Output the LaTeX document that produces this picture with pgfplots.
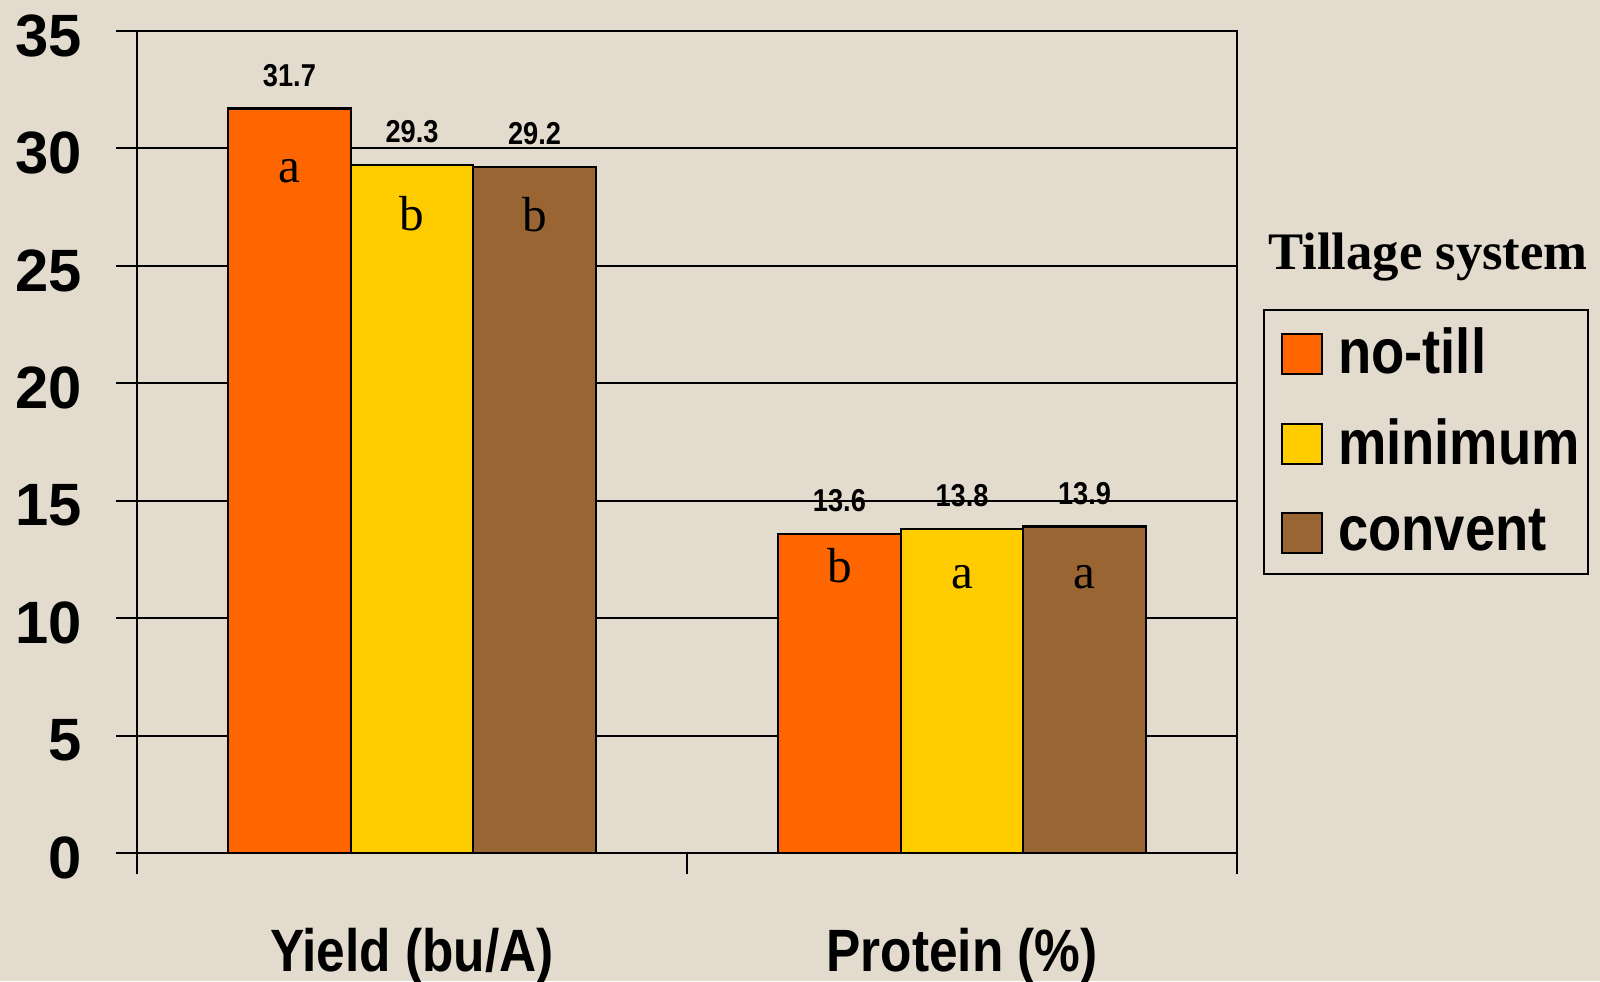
\documentclass[border=0pt]{standalone}
\usepackage{pgfplots}
\pgfplotsset{compat=1.18}
\usepackage{fontspec}
\setmainfont{Liberation Serif}
\newfontfamily\imp[FakeStretch=0.86]{Liberation Sans}
\newfontfamily\impn{Liberation Sans}
\definecolor{bgc}{RGB}{227,219,205}
\definecolor{notill}{RGB}{255,102,0}
\definecolor{minim}{RGB}{255,204,0}
\definecolor{convent}{RGB}{153,102,51}

\pgfplotsset{
    vallab/.style={nodes near coords, nodes near coords style={font=\fontsize{9}{9}\selectfont\imp\bfseries,
        anchor=south, inner sep=0pt, yshift=0.21cm}},
    letter/.style={draw=none, fill=none, forget plot, point meta=explicit symbolic,
        nodes near coords, nodes near coords style={font=\fontsize{14}{14}\selectfont, anchor=base}},
}

\begin{document}
\begin{tikzpicture}
\useasboundingbox (0,0) rectangle (16,9.81);
\clip (0,0) rectangle (16,9.81);
\fill[bgc] (0,0) rectangle (16,9.81);
\begin{axis}[
    at={(1.37cm,1.28cm)}, anchor=south west,
    scale only axis, width=11cm, height=8.22cm,
    ybar, bar width=0.2228,
    xmin=-0.5, xmax=1.5, ymin=0, ymax=35,
    xtick={-0.5,0.5,1.5}, xticklabels={},
    extra x ticks={0,1},
    extra x tick labels={Yield (bu/A),Protein (\%)},
    extra x tick style={major tick length=0pt,
        xticklabel style={font=\fontsize{17}{17}\selectfont\imp\bfseries, anchor=base, yshift=-1.18cm}},
    ytick={0,5,...,35},
    major tick length=0.21cm,
    tick align=outside, tick pos=left,
    ymajorgrids, grid style={black, line width=0.6pt},
    axis line style={black, line width=0.6pt},
    tick style={black, line width=0.6pt},
    /pgf/number format/assume math mode=true,
    yticklabel style={font=\fontsize{17}{17}\selectfont\impn\bfseries, anchor=east, xshift=-0.22cm, yshift=-0.05cm},
    legend style={at={(1.0236,0.6618)}, anchor=north west, draw=black, line width=0.6pt,
        fill=none, font=\fontsize{18}{18}\selectfont\imp\bfseries,
        inner xsep=0.01cm, inner ysep=0.11cm, row sep=0.255cm, cells={anchor=west}},
    legend image code/.code={\path[draw=none, fill=none] (-0.17cm,0) -- (0.49cm,0);
        \draw[#1, draw=black, line width=0.6pt] (0cm,-0.2cm) rectangle (0.4cm,0.2cm);},
]
\addplot[bar shift=-0.2228, fill=notill, draw=black, line width=0.6pt, vallab]
    coordinates {(0,31.7) (1,13.6)};
\addplot[bar shift=0, fill=minim, draw=black, line width=0.6pt, vallab]
    coordinates {(0,29.3) (1,13.8)};
\addplot[bar shift=0.2228, fill=convent, draw=black, line width=0.6pt, vallab]
    coordinates {(0,29.2) (1,13.9)};
\legend{no-till,minimum,convent}
% significance letters, placed at their baselines
\addplot[bar shift=-0.2228, letter] coordinates {(0,28.55) [a] (1,11.51) [b]};
\addplot[bar shift=0, letter] coordinates {(0,26.49) [b] (1,11.25) [a]};
\addplot[bar shift=0.2228, letter] coordinates {(0,26.48) [b] (1,11.26) [a]};
\end{axis}
\node[font=\fontsize{15}{15}\selectfont\bfseries, anchor=base] at (14.28,7.11) {Tillage system};
\end{tikzpicture}
\end{document}
